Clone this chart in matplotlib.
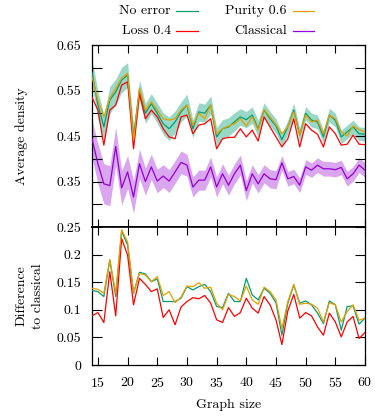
"""Average density vs graph size, with difference to classical below."""

import numpy as np
import matplotlib
matplotlib.use("Agg")
import matplotlib.pyplot as plt
from matplotlib.lines import Line2D

plt.rcParams["font.family"] = ["cmr10", "DejaVu Serif"]
plt.rcParams["mathtext.fontset"] = "cm"
plt.rcParams["axes.formatter.use_mathtext"] = True
plt.rcParams["font.size"] = 10

# graph sizes 14..60
sizes = np.arange(14, 61)

# top panel: average density
no_error = [0.590, 0.518, 0.470, 0.529, 0.547, 0.573, 0.584, 0.448, 0.551, 0.500,
            0.521, 0.500, 0.477, 0.466, 0.481, 0.503,
            0.518, 0.466, 0.503, 0.500, 0.518, 0.448, 0.466, 0.470, 0.481, 0.492,
            0.486, 0.496, 0.466, 0.507, 0.488, 0.472,
            0.442, 0.470, 0.507, 0.452, 0.500, 0.485, 0.481, 0.448, 0.496, 0.485,
            0.448, 0.459, 0.470, 0.455, 0.454]
no_error_err = [0.028, 0.030, 0.028, 0.030, 0.028, 0.028, 0.027, 0.025, 0.022, 0.022,
                0.022, 0.022, 0.024, 0.026, 0.024, 0.022,
                0.024, 0.020, 0.020, 0.020, 0.020, 0.020, 0.020, 0.020, 0.020, 0.018,
                0.018, 0.018, 0.018, 0.016, 0.016, 0.016,
                0.015, 0.015, 0.015, 0.015, 0.015, 0.015, 0.015, 0.015, 0.015, 0.015,
                0.015, 0.015, 0.015, 0.015, 0.015]
purity = [0.580, 0.529, 0.492, 0.533, 0.555, 0.577, 0.588, 0.441, 0.555, 0.507,
          0.525, 0.507, 0.488, 0.485, 0.488, 0.507,
          0.518, 0.474, 0.500, 0.488, 0.518, 0.455, 0.466, 0.472, 0.477, 0.488,
          0.472, 0.492, 0.463, 0.508, 0.492, 0.475,
          0.455, 0.470, 0.503, 0.452, 0.496, 0.481, 0.485, 0.455, 0.496, 0.488,
          0.459, 0.450, 0.472, 0.464, 0.459]
loss = [0.535, 0.507, 0.430, 0.507, 0.518, 0.562, 0.569, 0.422, 0.544, 0.488,
        0.507, 0.492, 0.466, 0.448, 0.444, 0.492,
        0.496, 0.455, 0.474, 0.477, 0.488, 0.422, 0.444, 0.447, 0.447, 0.466,
        0.448, 0.463, 0.439, 0.492, 0.470, 0.448,
        0.426, 0.444, 0.488, 0.426, 0.477, 0.463, 0.454, 0.426, 0.470, 0.455,
        0.430, 0.432, 0.452, 0.432, 0.431]
classical = [0.444, 0.389, 0.345, 0.341, 0.427, 0.336, 0.371, 0.316, 0.389, 0.350,
             0.382, 0.351, 0.362, 0.351, 0.371, 0.392,
             0.386, 0.338, 0.353, 0.353, 0.382, 0.338, 0.367, 0.342, 0.367, 0.386,
             0.330, 0.367, 0.345, 0.367, 0.356, 0.354,
             0.391, 0.356, 0.361, 0.342, 0.382, 0.375, 0.386, 0.378, 0.378, 0.376,
             0.381, 0.356, 0.367, 0.386, 0.375]
classical_err = [0.042, 0.044, 0.044, 0.044, 0.042, 0.038, 0.036, 0.036, 0.032, 0.030,
                 0.028, 0.026, 0.025, 0.025, 0.025, 0.025,
                 0.024, 0.022, 0.022, 0.022, 0.022, 0.022, 0.022, 0.022, 0.022, 0.022,
                 0.022, 0.020, 0.020, 0.020, 0.020, 0.020,
                 0.016, 0.016, 0.016, 0.016, 0.016, 0.016, 0.016, 0.016, 0.016, 0.016,
                 0.016, 0.016, 0.016, 0.016, 0.016]

# bottom panel: difference to classical
diff_no_error = [0.135, 0.133, 0.124, 0.190, 0.124, 0.243, 0.217, 0.130, 0.168, 0.165,
                 0.151, 0.156, 0.115, 0.115, 0.115, 0.121,
                 0.142, 0.136, 0.142, 0.146, 0.133, 0.106, 0.104, 0.130, 0.115, 0.115,
                 0.157, 0.127, 0.118, 0.139, 0.130, 0.113,
                 0.054, 0.112, 0.145, 0.112, 0.116, 0.109, 0.094, 0.075, 0.116, 0.109,
                 0.063, 0.106, 0.107, 0.074, 0.085]
diff_purity = [0.139, 0.137, 0.130, 0.191, 0.130, 0.245, 0.223, 0.130, 0.166, 0.163,
               0.151, 0.160, 0.126, 0.133, 0.113, 0.123,
               0.143, 0.142, 0.149, 0.139, 0.141, 0.112, 0.100, 0.128, 0.124, 0.116,
               0.143, 0.118, 0.110, 0.141, 0.133, 0.118,
               0.066, 0.115, 0.146, 0.110, 0.112, 0.110, 0.103, 0.078, 0.113, 0.109,
               0.078, 0.097, 0.109, 0.081, 0.085]
diff_loss = [0.089, 0.095, 0.077, 0.169, 0.089, 0.229, 0.199, 0.109, 0.157, 0.146,
             0.133, 0.138, 0.086, 0.100, 0.073, 0.105,
             0.115, 0.122, 0.120, 0.126, 0.112, 0.082, 0.077, 0.104, 0.088, 0.095,
             0.121, 0.103, 0.094, 0.124, 0.109, 0.082,
             0.037, 0.098, 0.128, 0.085, 0.095, 0.089, 0.069, 0.054, 0.094, 0.078,
             0.051, 0.078, 0.088, 0.048, 0.059]

GREEN = "#009e73"
ORANGE = "#e69f00"
RED = "#ff0000"
PURPLE = "#9400d3"
LW = 0.9

fig = plt.figure(figsize=(3.75, 4.18), dpi=100)
ax1 = fig.add_axes([0.2453, 0.4569, 0.728, 0.4354])
ax2 = fig.add_axes([0.2453, 0.1268, 0.728, 0.3301])

x = sizes
ne = np.array(no_error)
ne_e = np.array(no_error_err)
cl = np.array(classical)
cl_e = np.array(classical_err)

ax1.fill_between(x, ne - ne_e, ne + ne_e, color=GREEN, alpha=0.4, lw=0, zorder=1)
ax1.fill_between(x, cl - cl_e, cl + cl_e, color=PURPLE, alpha=0.35, lw=0, zorder=1)
ax1.plot(x, no_error, color=GREEN, lw=LW, zorder=3)
ax1.plot(x, loss, color=RED, lw=LW, zorder=3)
ax1.plot(x, purity, color=ORANGE, lw=LW, zorder=4)
ax1.plot(x, classical, color=PURPLE, lw=LW, zorder=3)

ax2.plot(x, diff_no_error, color=GREEN, lw=LW, zorder=3)
ax2.plot(x, diff_loss, color=RED, lw=LW, zorder=3)
ax2.plot(x, diff_purity, color=ORANGE, lw=LW, zorder=4)

for ax in (ax1, ax2):
    ax.set_xlim(14, 60)
    ax.set_xticks(np.arange(15, 61, 5))
    ax.tick_params(which="both", direction="in", top=True, right=True,
                   length=7, width=0.8, pad=8)
    ax.tick_params(axis="x", length=6)
    for s in ax.spines.values():
        s.set_linewidth(0.9)

ax1.set_ylim(0.25, 0.65)
ax1.set_yticks([0.35, 0.45, 0.55, 0.65])
ax1.set_yticklabels(["0.35", "0.45", "0.55", "0.65"])
ax1.set_yticks([0.30, 0.40, 0.50, 0.60], minor=True)
ax1.tick_params(which="minor", length=7, width=0.8)
ax1.tick_params(labelbottom=False)
ax1.spines["bottom"].set_linewidth(1.2)
ax1.set_ylabel("Average density")

ax2.set_ylim(0, 0.25)
ax2.set_yticks([0, 0.05, 0.1, 0.15, 0.2, 0.25])
ax2.set_yticklabels(["0", "0.05", "0.1", "0.15", "0.2", "0.25"])
ax2.spines["top"].set_linewidth(1.2)
ax2.set_xlabel("Graph size", labelpad=6)
ax2.set_ylabel("Difference\nto classical", linespacing=1.5)
ax1.yaxis.set_label_coords(-0.234, 0.5)
ax2.yaxis.set_label_coords(-0.176, 0.5)

# legend, gnuplot style: text right-aligned, sample line after it
entries = [("No error", GREEN, 0.455, 0.973), ("Purity 0.6", ORANGE, 0.765, 0.973),
           ("Loss 0.4", RED, 0.455, 0.925), ("Classical", PURPLE, 0.765, 0.925)]
for label, col, tx, ty in entries:
    fig.text(tx, ty, label, ha="right", va="center")
    fig.add_artist(Line2D([tx + 0.015, tx + 0.072], [ty, ty], color=col,
                          lw=LW, transform=fig.transFigure))

fig.savefig("out.png", dpi=100)
